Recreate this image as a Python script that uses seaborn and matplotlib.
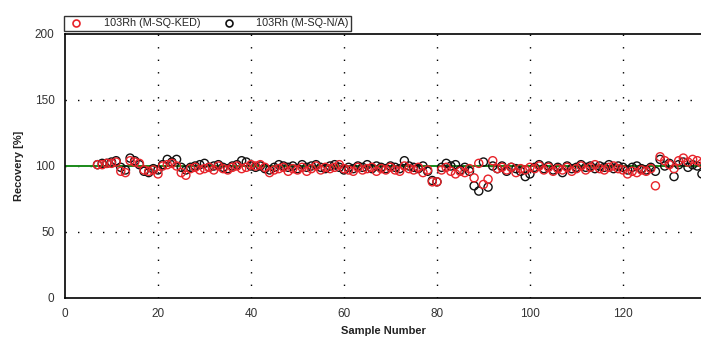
import numpy as np
import pandas as pd
import matplotlib
matplotlib.use("Agg")
import matplotlib.pyplot as plt
from matplotlib.lines import Line2D
from matplotlib.ticker import MultipleLocator
import seaborn as sns

samples = list(range(7, 138))

ked = [101, 101, 102, 102, 103, 96, 95, 104, 103, 102, 97, 96, 97, 94, 100, 101, 102, 100, 95, 93,
       98, 99, 97, 98, 99, 97, 100, 98, 97, 99, 100, 98, 99, 101, 100, 101, 99, 95, 97, 98,
       99, 96, 98, 97, 99, 96, 98, 100, 97, 99, 98, 99, 101, 98, 97, 96, 99, 97, 98, 99,
       96, 98, 97, 99, 97, 96, 100, 98, 97, 99, 95, 97, 88, 88, 97, 99, 96, 94, 96, 95,
       98, 91, 102, 86, 90, 104, 98, 99, 97, 99, 95, 98, 97, 99, 98, 100, 97, 99, 96, 98,
       97, 99, 96, 98, 100, 97, 99, 101, 98, 97, 99, 100, 98, 97, 94, 96, 95, 97, 96, 98,
       85, 107, 104, 101, 98, 104, 106, 103, 105, 104, 102]

na = [101, 102, 102, 103, 104, 99, 97, 106, 104, 101, 96, 95, 98, 97, 101, 105, 103, 105, 99, 97,
      99, 100, 101, 102, 99, 100, 101, 99, 98, 100, 101, 104, 103, 100, 99, 100, 98, 97, 99, 101,
      100, 99, 100, 98, 101, 99, 100, 101, 99, 98, 100, 101, 99, 97, 99, 98, 100, 99, 101, 98,
      100, 99, 98, 100, 99, 98, 104, 100, 99, 98, 100, 96, 89, 88, 99, 102, 100, 101, 97, 99,
      96, 85, 81, 103, 84, 100, 98, 100, 96, 99, 98, 96, 92, 94, 99, 101, 98, 100, 97, 99,
      95, 100, 98, 99, 101, 99, 100, 98, 100, 99, 101, 98, 100, 99, 97, 99, 100, 98, 97, 99,
      96, 105, 100, 102, 92, 101, 103, 99, 101, 100, 94]

label_ked = "103Rh (M-SQ-KED)"
label_na = "103Rh (M-SQ-N/A)"
red = "#e8232a"
black = "#111111"

df_ked = pd.DataFrame({"Sample": samples, "Recovery": ked})
df_na = pd.DataFrame({"Sample": samples, "Recovery": na})

sns.set_style("white")
plt.rcParams["font.family"] = ["Liberation Sans", "DejaVu Sans"]

fig = plt.figure(figsize=(7.01, 3.41), dpi=100)
ax = fig.add_axes([65 / 701, 1 - 298 / 341, 1 - 65 / 701, (298 - 34) / 341])

ax.axhline(100, color="#1a8a1a", lw=1.4, zorder=1)

sns.scatterplot(data=df_na, x="Sample", y="Recovery", ax=ax, marker="o", s=34,
                facecolor="none", edgecolor=black, linewidth=1.0, zorder=3)
sns.scatterplot(data=df_ked, x="Sample", y="Recovery", ax=ax, marker="o", s=34,
                facecolor="none", edgecolor=red, linewidth=1.0, zorder=4)

ax.set_xlim(0, 136.8)
ax.set_ylim(0, 200)
ax.xaxis.set_major_locator(MultipleLocator(20))
ax.xaxis.set_minor_locator(MultipleLocator(5))
ax.yaxis.set_major_locator(MultipleLocator(50))
ax.yaxis.set_minor_locator(MultipleLocator(10))
ax.tick_params(which="major", direction="inout", length=7, width=1, color="black",
               labelsize=8.5, labelcolor="#333333", pad=4)
ax.tick_params(which="minor", direction="inout", length=5, width=1, color="black")

for v in [20, 40, 60, 80, 100, 120]:
    ax.axvline(v, color="black", lw=1, ls=(0, (1, 8)), zorder=0)
for v in [50, 100, 150]:
    ax.axhline(v, color="black", lw=1, ls=(0, (1, 8)), zorder=0)

for side in ["left", "bottom", "top"]:
    ax.spines[side].set_color("black")
    ax.spines[side].set_linewidth(1.2)
ax.spines["right"].set_visible(False)

ax.set_xlabel("Sample Number", fontsize=8, fontweight="bold", color="#222222", labelpad=4)
ax.set_ylabel("Recovery [%]", fontsize=8, fontweight="bold", color="#222222", labelpad=8)

handles = [Line2D([], [], ls="", marker="o", markersize=5, markerfacecolor="none",
                  markeredgecolor=red, markeredgewidth=1.2),
           Line2D([], [], ls="", marker="o", markersize=5, markerfacecolor="none",
                  markeredgecolor=black, markeredgewidth=1.2)]
leg = fig.legend(handles, [label_ked, label_na], ncol=2, loc="lower left",
                 bbox_to_anchor=(64 / 701, 1 - 31 / 341), fontsize=7.8, frameon=True,
                 fancybox=False, edgecolor="black", borderpad=0.25, handletextpad=1.6,
                 columnspacing=1.8, handlelength=1.8, borderaxespad=0)
leg.get_frame().set_linewidth(1.0)

fig.savefig("out.png", dpi=100)
